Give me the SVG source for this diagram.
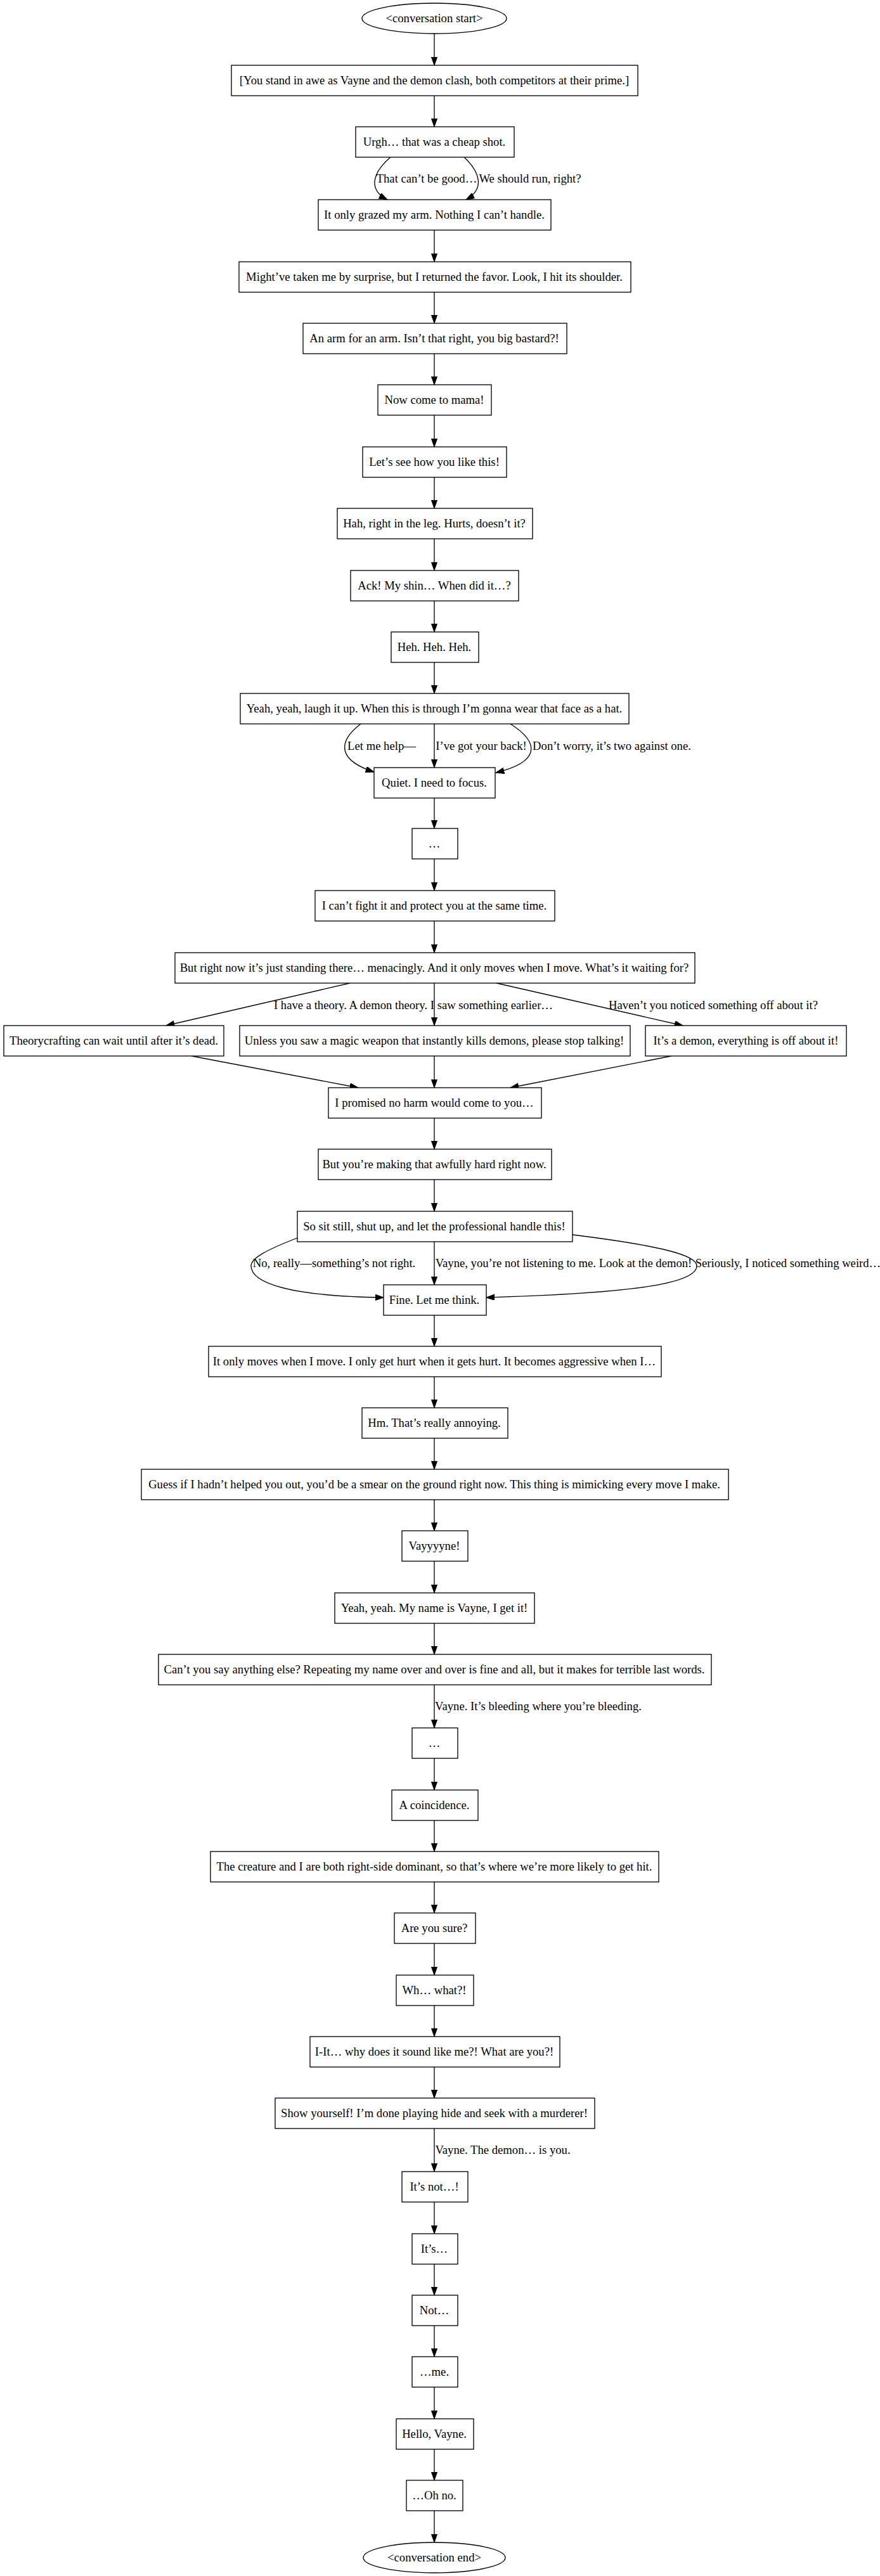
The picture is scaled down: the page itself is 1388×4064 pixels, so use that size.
<svg xmlns="http://www.w3.org/2000/svg" width="1388" height="4064" viewBox="0 0 1388 4064">
<style>
.n rect,.n ellipse{fill:#fff;stroke:#000;stroke-width:1.33}
text{font-family:"Liberation Serif","Times New Roman",serif;font-size:18.67px;text-anchor:middle;fill:#000}
.e path{fill:none;stroke:#000;stroke-width:1.33}
</style>
<defs>
<marker id="a" markerUnits="userSpaceOnUse" markerWidth="14" markerHeight="10" refX="13.3" refY="4.7" orient="auto">
<polygon points="0,0 13.3,4.7 0,9.4" fill="#000" stroke="#000" stroke-width="1"/>
</marker>
</defs>
<rect width="1388" height="4064" fill="#fff"/>
<g class="e" id="connectors">
<path marker-end="url(#a)" d="M685,53V103"/>
<path marker-end="url(#a)" d="M685,151V200"/>
<path marker-end="url(#a)" d="M616,248 C590,270 578,298 611,315"/>
<path marker-end="url(#a)" d="M732,248 C756,270 766,298 735,315"/>
<path marker-end="url(#a)" d="M685,363V413"/>
<path marker-end="url(#a)" d="M685,461V510"/>
<path marker-end="url(#a)" d="M685,558V607"/>
<path marker-end="url(#a)" d="M685,655V705"/>
<path marker-end="url(#a)" d="M685,753V802"/>
<path marker-end="url(#a)" d="M685,850V900"/>
<path marker-end="url(#a)" d="M685,948V997"/>
<path marker-end="url(#a)" d="M685,1045V1094"/>
<path marker-end="url(#a)" d="M569,1142 C530,1172 535,1200 590,1218"/>
<path marker-end="url(#a)" d="M685,1142V1211"/>
<path marker-end="url(#a)" d="M805,1142 C852,1172 852,1202 782,1219"/>
<path marker-end="url(#a)" d="M685,1259V1307"/>
<path marker-end="url(#a)" d="M685,1355V1405"/>
<path marker-end="url(#a)" d="M685,1453V1503"/>
<path marker-end="url(#a)" d="M552,1551L262,1618"/>
<path marker-end="url(#a)" d="M685,1551V1618"/>
<path marker-end="url(#a)" d="M783,1551L1077,1618"/>
<path marker-end="url(#a)" d="M302,1666L565,1716"/>
<path marker-end="url(#a)" d="M685,1666V1716"/>
<path marker-end="url(#a)" d="M1059,1666L805,1716"/>
<path marker-end="url(#a)" d="M685,1764V1813"/>
<path marker-end="url(#a)" d="M685,1861V1911"/>
<path marker-end="url(#a)" d="M469,1953 C420,1972 396,1985 396,1997 C396,2025 460,2045 605,2047"/>
<path marker-end="url(#a)" d="M685,1959V2027"/>
<path marker-end="url(#a)" d="M903,1948 C1040,1965 1099,1980 1099,1997 C1099,2025 1000,2040 767,2047"/>
<path marker-end="url(#a)" d="M685,2075V2124"/>
<path marker-end="url(#a)" d="M685,2172V2221"/>
<path marker-end="url(#a)" d="M685,2269V2318"/>
<path marker-end="url(#a)" d="M685,2366V2415"/>
<path marker-end="url(#a)" d="M685,2463V2513"/>
<path marker-end="url(#a)" d="M685,2561V2610"/>
<path marker-end="url(#a)" d="M685,2658V2726"/>
<path marker-end="url(#a)" d="M685,2774V2824"/>
<path marker-end="url(#a)" d="M685,2872V2921"/>
<path marker-end="url(#a)" d="M685,2969V3018"/>
<path marker-end="url(#a)" d="M685,3066V3116"/>
<path marker-end="url(#a)" d="M685,3164V3213"/>
<path marker-end="url(#a)" d="M685,3261V3310"/>
<path marker-end="url(#a)" d="M685,3358V3426"/>
<path marker-end="url(#a)" d="M685,3474V3524"/>
<path marker-end="url(#a)" d="M685,3572V3621"/>
<path marker-end="url(#a)" d="M685,3669V3718"/>
<path marker-end="url(#a)" d="M685,3766V3816"/>
<path marker-end="url(#a)" d="M685,3864V3913"/>
<path marker-end="url(#a)" d="M685,3961V4011"/>
<text x="673" y="288">That can’t be good…</text>
<text x="836" y="288">We should run, right?</text>
<text x="602" y="1183">Let me help—</text>
<text x="759" y="1183">I’ve got your back!</text>
<text x="965" y="1183">Don’t worry, it’s two against one.</text>
<text x="652" y="1592">I have a theory. A demon theory. I saw something earlier…</text>
<text x="1125" y="1592">Haven’t you noticed something off about it?</text>
<text x="527" y="1999">No, really—something’s not right.</text>
<text x="889" y="1999">Vayne, you’re not listening to me. Look at the demon!</text>
<text x="1243" y="1999">Seriously, I noticed something weird…</text>
<text x="849" y="2698">Vayne. It’s bleeding where you’re bleeding.</text>
<text x="793" y="3398">Vayne. The demon… is you.</text>
</g>
<g class="n" id="start"><ellipse cx="685" cy="29" rx="114" ry="24"/><text x="685" y="35">&lt;conversation start&gt;</text></g>
<g class="n" id="n1"><rect x="365" y="103" width="641" height="48"/><text x="685" y="133">[You stand in awe as Vayne and the demon clash, both competitors at their prime.]</text></g>
<g class="n" id="n2"><rect x="561" y="200" width="250" height="48"/><text x="685" y="230">Urgh… that was a cheap shot.</text></g>
<g class="n" id="n3"><rect x="502" y="315" width="367" height="48"/><text x="685" y="345">It only grazed my arm. Nothing I can’t handle.</text></g>
<g class="n" id="n4"><rect x="377" y="413" width="618" height="48"/><text x="685" y="443">Might’ve taken me by surprise, but I returned the favor. Look, I hit its shoulder.</text></g>
<g class="n" id="n5"><rect x="478" y="510" width="416" height="48"/><text x="685" y="540">An arm for an arm. Isn’t that right, you big bastard?!</text></g>
<g class="n" id="n6"><rect x="596" y="607" width="179" height="48"/><text x="685" y="637">Now come to mama!</text></g>
<g class="n" id="n7"><rect x="572" y="705" width="227" height="48"/><text x="685" y="735">Let’s see how you like this!</text></g>
<g class="n" id="n8"><rect x="532" y="802" width="308" height="48"/><text x="685" y="832">Hah, right in the leg. Hurts, doesn’t it?</text></g>
<g class="n" id="n9"><rect x="553" y="900" width="265" height="48"/><text x="685" y="930">Ack! My shin… When did it…?</text></g>
<g class="n" id="n10"><rect x="617" y="997" width="138" height="48"/><text x="685" y="1027">Heh. Heh. Heh.</text></g>
<g class="n" id="n11"><rect x="379" y="1094" width="613" height="48"/><text x="685" y="1124">Yeah, yeah, laugh it up. When this is through I’m gonna wear that face as a hat.</text></g>
<g class="n" id="n12"><rect x="590" y="1211" width="191" height="48"/><text x="685" y="1241">Quiet. I need to focus.</text></g>
<g class="n" id="n13"><rect x="650" y="1307" width="72" height="48"/><text x="685" y="1337">…</text></g>
<g class="n" id="n14"><rect x="497" y="1405" width="378" height="48"/><text x="685" y="1435">I can’t fight it and protect you at the same time.</text></g>
<g class="n" id="n15"><rect x="276" y="1503" width="820" height="48"/><text x="685" y="1533">But right now it’s just standing there… menacingly. And it only moves when I move. What’s it waiting for?</text></g>
<g class="n" id="n16"><rect x="6" y="1618" width="347" height="48"/><text x="179.5" y="1648">Theorycrafting can wait until after it’s dead.</text></g>
<g class="n" id="n17"><rect x="378" y="1618" width="616" height="48"/><text x="685" y="1648">Unless you saw a magic weapon that instantly kills demons, please stop talking!</text></g>
<g class="n" id="n18"><rect x="1018" y="1618" width="317" height="48"/><text x="1176.5" y="1648">It’s a demon, everything is off about it!</text></g>
<g class="n" id="n19"><rect x="518" y="1716" width="336" height="48"/><text x="685" y="1746">I promised no harm would come to you…</text></g>
<g class="n" id="n20"><rect x="502" y="1813" width="368" height="48"/><text x="685" y="1843">But you’re making that awfully hard right now.</text></g>
<g class="n" id="n21"><rect x="469" y="1911" width="434" height="48"/><text x="685" y="1941">So sit still, shut up, and let the professional handle this!</text></g>
<g class="n" id="n22"><rect x="605" y="2027" width="162" height="48"/><text x="685" y="2057">Fine. Let me think.</text></g>
<g class="n" id="n23"><rect x="329" y="2124" width="714" height="48"/><text x="685" y="2154">It only moves when I move. I only get hurt when it gets hurt. It becomes aggressive when I…</text></g>
<g class="n" id="n24"><rect x="571" y="2221" width="230" height="48"/><text x="685" y="2251">Hm. That’s really annoying.</text></g>
<g class="n" id="n25"><rect x="223" y="2318" width="926" height="48"/><text x="685" y="2348">Guess if I hadn’t helped you out, you’d be a smear on the ground right now. This thing is mimicking every move I make.</text></g>
<g class="n" id="n26"><rect x="634" y="2415" width="104" height="48"/><text x="685" y="2445">Vayyyyne!</text></g>
<g class="n" id="n27"><rect x="528" y="2513" width="315" height="48"/><text x="685" y="2543">Yeah, yeah. My name is Vayne, I get it!</text></g>
<g class="n" id="n28"><rect x="250" y="2610" width="872" height="48"/><text x="685" y="2640">Can’t you say anything else? Repeating my name over and over is fine and all, but it makes for terrible last words.</text></g>
<g class="n" id="n29"><rect x="650" y="2726" width="72" height="48"/><text x="685" y="2756">…</text></g>
<g class="n" id="n30"><rect x="618" y="2824" width="136" height="48"/><text x="685" y="2854">A coincidence.</text></g>
<g class="n" id="n31"><rect x="332" y="2921" width="707" height="48"/><text x="685" y="2951">The creature and I are both right-side dominant, so that’s where we’re more likely to get hit.</text></g>
<g class="n" id="n32"><rect x="622" y="3018" width="128" height="48"/><text x="685" y="3048">Are you sure?</text></g>
<g class="n" id="n33"><rect x="625" y="3116" width="122" height="48"/><text x="685" y="3146">Wh… what?!</text></g>
<g class="n" id="n34"><rect x="489" y="3213" width="394" height="48"/><text x="685" y="3243">I-It… why does it sound like me?! What are you?!</text></g>
<g class="n" id="n35"><rect x="434" y="3310" width="504" height="48"/><text x="685" y="3340">Show yourself! I’m done playing hide and seek with a murderer!</text></g>
<g class="n" id="n36"><rect x="634" y="3426" width="104" height="48"/><text x="685" y="3456">It’s not…!</text></g>
<g class="n" id="n37"><rect x="650" y="3524" width="72" height="48"/><text x="685" y="3554">It’s…</text></g>
<g class="n" id="n38"><rect x="650" y="3621" width="72" height="48"/><text x="685" y="3651">Not…</text></g>
<g class="n" id="n39"><rect x="650" y="3718" width="72" height="48"/><text x="685" y="3748">…me.</text></g>
<g class="n" id="n40"><rect x="625" y="3816" width="122" height="48"/><text x="685" y="3846">Hello, Vayne.</text></g>
<g class="n" id="n41"><rect x="641" y="3913" width="89" height="48"/><text x="685" y="3943">…Oh no.</text></g>
<g class="n" id="end"><ellipse cx="685" cy="4035" rx="112" ry="24"/><text x="685" y="4041">&lt;conversation end&gt;</text></g>
</svg>
